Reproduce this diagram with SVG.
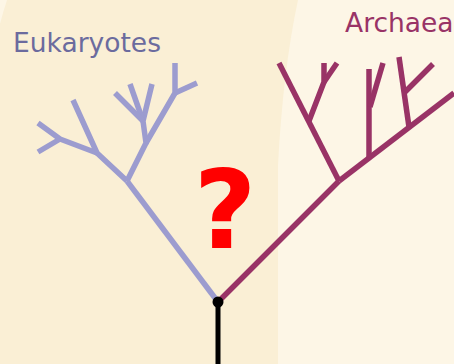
<svg xmlns="http://www.w3.org/2000/svg" width="454" height="364" viewBox="0 0 454 364">
<style>
.bg-dark{fill:#FAEFD5}
.bg-light{fill:#FDF6E6}
.euk{fill:none;stroke:#9C9CCF;stroke-width:5.5;stroke-linecap:butt;stroke-linejoin:round}
.arc{fill:none;stroke:#993366;stroke-width:5.5;stroke-linecap:butt;stroke-linejoin:round}
.stem{fill:none;stroke:#000;stroke-width:5}
.label{font-family:"DejaVu Sans",sans-serif;font-size:26.5px}
</style>
<g id="background">
<rect class="bg-dark" x="0" y="0" width="454" height="364"/>
<path class="bg-light" d="M298,0 Q283,70 278,165 L278,364 L454,364 L454,0 Z"/>
<path class="bg-light" d="M0,0 L7,0 Q3,12 0,24 Z"/>
</g>
<g id="connectors">
<g id="eukaryotes-tree">
<path class="euk" d="M218,302 L127,181"/>
<path class="euk" d="M127,181 L97,153 L73,100"/>
<path class="euk" d="M97,153 L60,139 L38,123"/>
<path class="euk" d="M60,139 L38,152"/>
<path class="euk" d="M127,181 L146,143 L143,121 L152,84"/>
<path class="euk" d="M143,121 L130,84"/>
<path class="euk" d="M143,121 L115,93"/>
<path class="euk" d="M146,143 L175,93 L175,63"/>
<path class="euk" d="M175,93 L197,83"/>
</g>
<g id="archaea-tree">
<path class="arc" d="M218,302 L339,181"/>
<path class="arc" d="M339,181 L279,63"/>
<path class="arc" d="M309,121 L324,82 L324,63"/>
<path class="arc" d="M324,82 L337,63"/>
<path class="arc" d="M339,181 L454,93"/>
<path class="arc" d="M369,158 L369,69"/>
<path class="arc" d="M370,107 L383,63"/>
<path class="arc" d="M409,127 L399,57"/>
<path class="arc" d="M405,92 L433,64"/>
</g>
<g id="root">
<path class="stem" d="M218,302 L218,364"/>
<circle cx="218" cy="302" r="5.5" fill="#000"/>
</g>
</g>
<g id="eukaryotes">
<text class="label" x="13" y="52" fill="#6B6B9E">Eukaryotes</text>
</g>
<g id="archaea">
<text class="label" x="345" y="32" fill="#993366">Archaea</text>
</g>
<g id="question">
<text x="225" y="248" text-anchor="middle" font-family="'DejaVu Sans',sans-serif" font-weight="bold" font-size="108" fill="#FF0000">?</text>
</g>
</svg>
